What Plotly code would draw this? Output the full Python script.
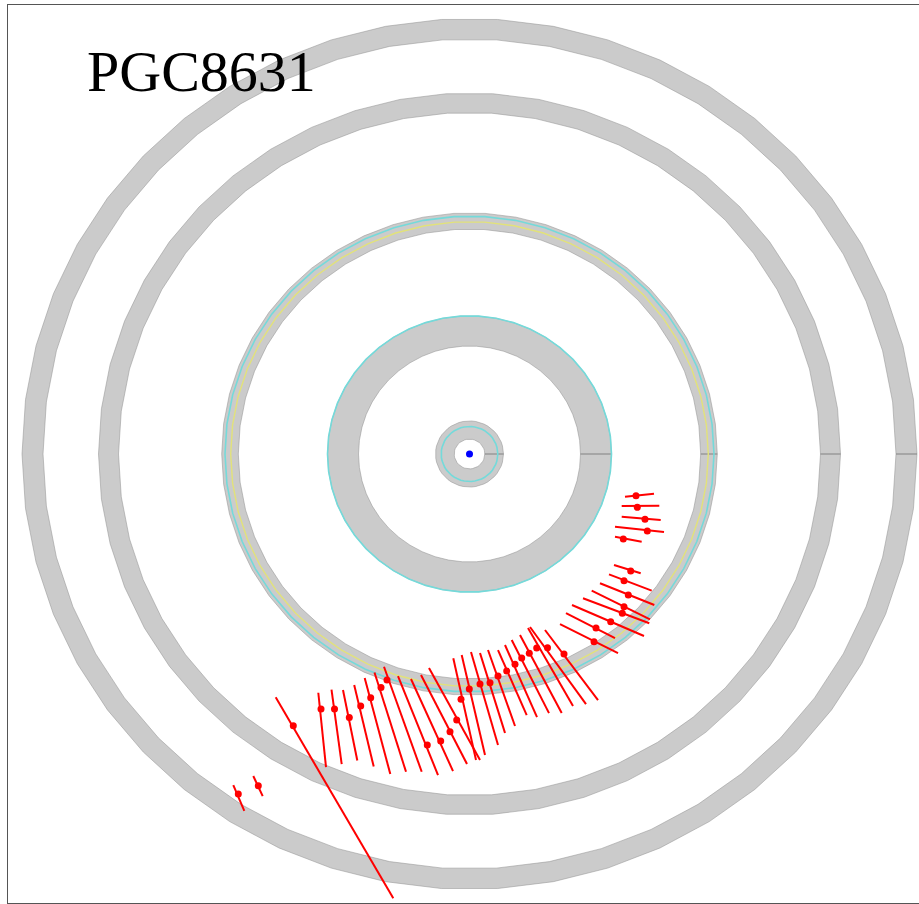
import numpy as np
import plotly.graph_objects as go

# ---------------- data (offsets from galaxy centre, arbitrary angular units) ----------------
# annuli: outer / inner radii
ring_outer = [44.75, 37.10, 24.78, 14.20, 3.40]
ring_inner = [42.65, 35.10, 23.12, 11.10, 1.53]
# thin coloured circles
cyan_r = [24.45, 14.20, 2.83]
yellow_r = [23.88]

# red measurements: marker position and the two ends of the tilted error bar
px_ = [-23.12, -21.12, -17.62,
       -14.85, -13.50, -12.02, -10.88, -9.88, -8.85, -8.25, -4.22, -2.88, -1.95, -1.28, -0.85,
       -0.02, 1.05, 2.05, 2.85, 3.72, 4.55, 5.22, 5.98, 6.72, 7.80, 9.45, 12.45, 12.65, 14.12,
       15.28, 15.45, 15.88, 15.45, 16.12,
       16.65, 16.78, 17.55, 17.78, 15.38]
py_ = [-34.95, -34.10, -27.93,
       -26.21, -26.21, -27.09, -25.91, -25.05, -24.00, -23.23, -29.91, -29.50, -28.55, -27.34, -25.22,
       -24.16, -23.64, -23.51, -22.82, -22.31, -21.62, -20.97, -20.49, -19.94, -19.91, -20.56, -19.30, -17.89, -17.24,
       -16.38, -15.70, -14.49, -13.02, -12.03,
       -4.29, -5.48, -6.71, -7.92, -8.74]
x_a = [-23.62, -21.62, -19.38,
       -15.12, -13.80, -12.65, -11.53, -10.48, -9.50, -8.55, -7.15, -5.85, -4.85, -4.05, -1.62,
       -0.78, 0.15, 1.05, 1.85, 2.85, 3.55, 4.22, 5.05, 5.85, 6.05, 7.55, 9.05, 9.65, 10.25,
       11.35, 12.22, 13.05, 13.95, 14.45,
       15.55, 15.22, 15.22, 14.55, 14.55]
y_a = [-34.03, -33.10, -25.01,
       -24.54, -24.21, -24.26, -23.75, -23.03, -22.46, -21.87, -22.82, -23.13, -22.72, -22.00, -21.00,
       -20.66, -20.35, -20.46, -20.15, -20.15, -19.63, -19.12, -18.61, -17.89, -17.78, -18.09, -17.48, -16.35, -15.52,
       -14.83, -14.05, -13.29, -12.37, -11.41,
       -4.39, -5.35, -6.45, -7.47, -8.50]
x_b = [-22.52, -20.68, -7.62,
       -14.35, -12.78, -11.22, -9.58, -7.92, -6.35, -4.78, -3.15, -1.65, -0.25, 1.05, 0.65,
       1.55, 2.85, 3.55, 4.55, 5.72, 6.75, 7.95, 9.22, 10.35, 11.65, 12.85, 14.85, 14.55, 17.45,
       17.98, 18.05, 18.48, 18.22, 17.12,
       18.45, 18.98, 19.12, 19.45, 17.22]
y_b = [-36.67, -35.16, -45.67,
       -32.18, -31.87, -31.51, -32.13, -32.90, -32.66, -32.66, -33.00, -32.59, -31.87, -31.46, -31.46,
       -30.94, -29.91, -28.68, -27.96, -26.83, -27.04, -26.63, -26.63, -25.91, -25.70, -25.29, -20.46, -18.92, -18.71,
       -17.40, -16.99, -15.52, -14.05, -12.26,
       -4.08, -5.31, -6.78, -8.02, -9.02]

label = "PGC8631"

# ---------------- figure ----------------
fig = go.Figure()
theta = np.linspace(0, 2 * np.pi, 51)
ct, st = np.cos(theta), np.sin(theta)

ring_fill = "#cbcbcb"
edge_col = "rgba(150,150,150,0.55)"
for ro, ri in zip(ring_outer, ring_inner):
    xs = np.concatenate([ro * ct, ri * ct[::-1]])
    ys = np.concatenate([ro * st, ri * st[::-1]])
    fig.add_trace(go.Scatter(x=xs, y=ys, mode="lines", fill="toself",
                             fillcolor=ring_fill, line=dict(color=edge_col, width=1),
                             hoverinfo="skip", showlegend=False))
    fig.add_trace(go.Scatter(x=[ri, ro], y=[0, 0], mode="lines",
                             line=dict(color="rgba(130,130,130,0.6)", width=1.2),
                             hoverinfo="skip", showlegend=False))

for r in cyan_r:
    fig.add_trace(go.Scatter(x=r * ct, y=r * st, mode="lines",
                             line=dict(color="#74dada", width=1.6),
                             hoverinfo="skip", showlegend=False))
for r in yellow_r:
    fig.add_trace(go.Scatter(x=r * ct, y=r * st, mode="lines",
                             line=dict(color="#e2e27a", width=1.4),
                             hoverinfo="skip", showlegend=False))

# error bars
lx, ly = [], []
for a, b, c, d in zip(x_a, y_a, x_b, y_b):
    lx += [a, c, None]
    ly += [b, d, None]
fig.add_trace(go.Scatter(x=lx, y=ly, mode="lines", line=dict(color="#ff0000", width=2),
                         hoverinfo="skip", showlegend=False))
fig.add_trace(go.Scatter(x=px_, y=py_, mode="markers",
                         marker=dict(color="#ff0000", size=7, line=dict(width=0)),
                         showlegend=False))

# centre
fig.add_trace(go.Scatter(x=[0], y=[0], mode="markers",
                         marker=dict(color="#0000ff", size=7, line=dict(width=0)),
                         showlegend=False))

fig.add_annotation(text=label, xref="paper", yref="paper", x=0.0845, y=0.926,
                   xanchor="left", yanchor="middle", showarrow=False,
                   font=dict(family="Liberation Serif", size=58, color="black"))

fig.update_xaxes(range=[-46.15, 44.95], showgrid=False, zeroline=False, showticklabels=False,
                 ticks="", showline=True, mirror=True, linecolor="#555555", linewidth=1)
fig.update_yaxes(range=[-46.15, 46.15], showgrid=False, zeroline=False, showticklabels=False,
                 ticks="", showline=True, mirror=False, linecolor="#555555", linewidth=1)
fig.update_layout(width=919, height=904, margin=dict(l=8, r=0, t=5, b=1),
                  paper_bgcolor="white", plot_bgcolor="white", showlegend=False)

fig.write_html("out.html", config={"displayModeBar": False},
               post_script="document.body.style.margin='0px';")
